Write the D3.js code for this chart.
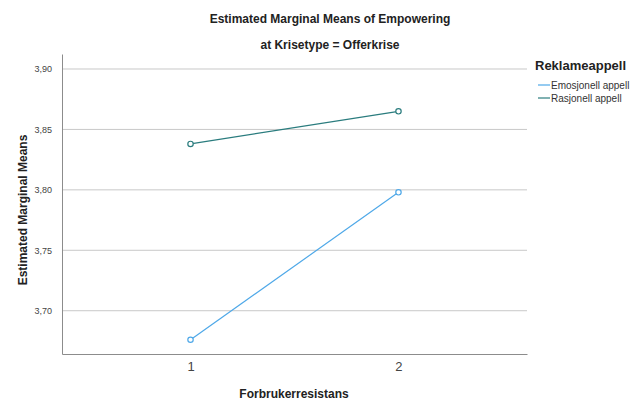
<!DOCTYPE html>
<html><head><meta charset="utf-8">
<script src="https://cdn.jsdelivr.net/npm/d3@7"></script>
<style>body{margin:0;background:#fff}svg{display:block;font-family:"Liberation Sans",Arial,sans-serif}</style>
</head><body>
<svg id="c" width="635" height="401"></svg>
<script>
const categories = ["1", "2"];
const seriesNames = ["Emosjonell appell", "Rasjonell appell"];
const emosjonell = [3.676, 3.798];
const rasjonell = [3.838, 3.865];
const yTicks = [3.70, 3.75, 3.80, 3.85, 3.90];
const colors = ["#4ea8e8", "#2a7c7e"];

const svg = d3.select("#c");
const L = 62, R = 527, T = 54, B = 354;
const x = d3.scalePoint().domain(categories).range([L, R]).padding(0.618);
const y = d3.scaleLinear().domain([3.6642, 3.9124]).range([B, T]);

// gridlines
svg.append("g").selectAll("line").data(yTicks).join("line")
  .attr("x1", L).attr("x2", R).attr("y1", d => y(d)).attr("y2", d => y(d))
  .attr("stroke", "#c8c8c8").attr("stroke-width", 1);

// y axis
const ya = svg.append("g").attr("transform", `translate(${L},0)`)
  .call(d3.axisLeft(y).tickValues(yTicks).tickSize(0).tickPadding(10)
    .tickFormat(d => d3.format(".2f")(d).replace(".", ",")));
ya.select(".domain").attr("stroke", "#8c8c8c");
ya.selectAll("text").attr("font-size", 9).attr("fill", "#444").attr("font-family", "Liberation Sans, Arial");

// x axis
const xa = svg.append("g").attr("transform", `translate(0,${B})`)
  .call(d3.axisBottom(x).tickSize(0).tickPadding(8));
xa.select(".domain").attr("stroke", "#8c8c8c");
xa.selectAll("text").attr("font-size", 13).attr("fill", "#444").attr("font-family", "Liberation Sans, Arial");

const series = [emosjonell, rasjonell];
const line = d3.line().x((d, i) => x(categories[i])).y(d => y(d));
series.forEach((s, k) => {
  svg.append("path").datum(s).attr("d", line).attr("fill", "none")
    .attr("stroke", colors[k]).attr("stroke-width", 1.2);
  svg.append("g").selectAll("circle").data(s).join("circle")
    .attr("cx", (d, i) => x(categories[i])).attr("cy", d => y(d)).attr("r", 2.7)
    .attr("fill", "#fff").attr("stroke", colors[k]).attr("stroke-width", 1.2);
});

// titles
svg.append("text").attr("x", 330).attr("y", 23).attr("text-anchor", "middle")
  .attr("font-size", 12).attr("font-weight", "bold").attr("fill", "#222")
  .text("Estimated Marginal Means of Empowering");
svg.append("text").attr("x", 330).attr("y", 49).attr("text-anchor", "middle")
  .attr("font-size", 12).attr("font-weight", "bold").attr("fill", "#222")
  .text("at Krisetype = Offerkrise");
svg.append("text").attr("x", 294).attr("y", 398).attr("text-anchor", "middle")
  .attr("font-size", 12).attr("font-weight", "bold").attr("fill", "#222")
  .text("Forbrukerresistans");
svg.append("text").attr("transform", "translate(27,210) rotate(-90)").attr("text-anchor", "middle")
  .attr("font-size", 12).attr("font-weight", "bold").attr("fill", "#222")
  .text("Estimated Marginal Means");

// legend
svg.append("text").attr("x", 535).attr("y", 70).attr("font-size", 13).attr("font-weight", "bold")
  .attr("fill", "#222").text("Reklameappell");
const lg = svg.append("g").selectAll("g").data(seriesNames).join("g")
  .attr("transform", (d, i) => `translate(538,${85 + i * 13})`);
lg.append("line").attr("x1", 0).attr("x2", 12).attr("stroke", (d, i) => colors[i]).attr("stroke-width", 1.2);
lg.append("text").attr("x", 13).attr("y", 3.5).attr("font-size", 10).attr("fill", "#333").text(d => d);
</script>
</body></html>
